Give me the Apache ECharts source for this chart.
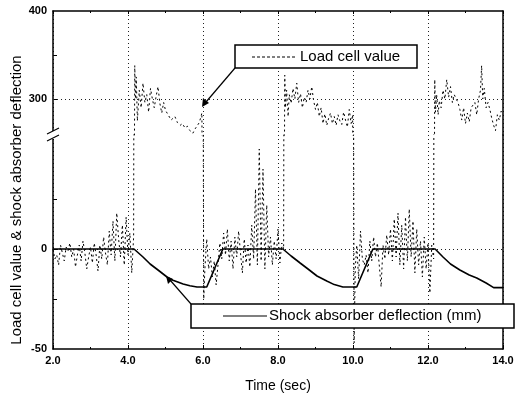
<!DOCTYPE html>
<html>
<head>
<meta charset="utf-8">
<script src="https://cdn.jsdelivr.net/npm/echarts@6/dist/echarts.min.js"></script>
<style>html,body{margin:0;padding:0;background:#fff}#c{width:521px;height:401px}</style>
</head>
<body>
<div id="c"></div>
<script>
// ---- data ----
const xTickLabels = ['2.0','4.0','6.0','8.0','10.0','12.0','14.0'];
const yUpperLabels = [300, 400];
const yLowerLabels = [-50, 0];
const yUpperGrid = [300];
const yLowerGrid = [0];

const deflTime  = [2.0, 4.16, 4.4, 4.59, 4.8, 5.04, 5.2, 5.47, 5.65, 5.84, 6.1, 6.53,
                   8.13, 8.35, 8.59, 8.8, 9.04, 9.3, 9.5, 9.73, 10.1, 10.53,
                   12.19, 12.4, 12.6, 12.85, 13.1, 13.3, 13.55, 13.75, 14.0];
const deflValue = [0, 0, -4, -7.5, -10.5, -14, -15.6, -17.5, -18.4, -19, -19, 0,
                   0, -3.5, -7, -10, -13.5, -16, -17.8, -19, -19, 0,
                   0, -4, -7.5, -10.5, -13, -14.5, -17, -19.3, -19.3];

const loadTime = [
 2.0,2.05,2.1,2.15,2.2,2.25,2.3,2.35,2.4,2.45,2.5,2.55,2.6,2.65,2.7,2.75,2.8,2.85,2.9,2.95,
 3.0,3.05,3.1,3.15,3.2,3.25,3.3,3.35,3.4,3.45,3.5,3.55,3.6,3.65,3.7,3.75,3.8,3.85,3.9,3.95,
 4.0,4.05,4.1,4.15,
 4.18,4.2,4.22,4.25,4.3,4.35,4.4,4.45,4.5,4.55,4.6,4.65,4.7,4.75,4.8,4.85,4.9,4.95,5.0,5.07,
 5.15,5.25,5.32,5.39,5.45,5.52,5.58,5.65,5.73,5.79,5.84,5.9,5.94,5.97,
 6.02,6.05,6.1,6.15,6.2,6.25,6.3,6.35,6.4,6.45,6.5,6.55,6.6,6.65,6.7,6.75,6.8,6.85,6.9,6.95,
 7.0,7.05,7.1,7.15,7.2,7.25,7.3,7.35,7.4,7.45,7.5,7.55,7.6,7.65,7.7,7.75,7.8,7.85,7.9,7.95,
 8.0,8.05,8.1,8.15,
 8.18,8.2,8.23,8.27,8.3,8.35,8.4,8.45,8.5,8.55,8.6,8.65,8.7,8.75,8.8,8.85,8.9,8.95,9.0,9.05,
 9.1,9.15,9.2,9.25,9.3,9.35,9.4,9.45,9.5,9.55,9.6,9.65,9.7,9.75,9.8,9.85,9.9,9.95,9.99,
 10.03,10.06,10.1,10.15,10.2,10.25,10.3,10.35,10.4,10.45,10.5,10.55,10.6,10.65,10.7,10.75,10.8,10.85,10.9,10.95,
 11.0,11.05,11.1,11.15,11.2,11.25,11.3,11.35,11.4,11.45,11.5,11.55,11.6,11.65,11.7,11.75,11.8,11.85,11.9,11.95,
 12.0,12.05,12.1,12.15,
 12.18,12.2,12.23,12.27,12.3,12.35,12.4,12.45,12.5,12.55,12.6,12.65,12.7,12.75,12.8,12.85,12.9,12.95,13.0,13.05,
 13.1,13.15,13.2,13.25,13.3,13.35,13.4,13.43,13.46,13.5,13.55,13.6,13.65,13.7,13.75,13.8,13.85,13.9,13.95,14.0
];
const loadValue = [
 0,-5,-3,-8,2,-2,-6,1,-1,3,-4,0,-9,-3,2,-6,4,-2,-10,-4,
 1,-7,3,-3,-11,2,-5,6,-2,-8,9,-3,14,-6,18,5,-4,12,-8,16,
 -3,8,-12,6,
 338,300,325,275,310,290,318,296,305,285,312,300,290,303,314,295,284,296,287,282,
 276,280,273,270,272,267,269,264,261,266,268,273,279,284,
 -25,-10,5,-10,-4,-14,-6,-18,-8,3,-5,8,-3,10,-6,4,-10,6,-4,9,
 -2,-12,5,-7,2,-9,12,-5,30,-8,50,-6,40,-10,22,-4,6,-8,4,-5,
 10,-7,3,0,
 327,290,310,280,305,295,312,300,318,296,306,290,302,296,310,300,314,298,288,296,
 280,290,272,283,270,278,284,272,280,270,282,275,271,285,276,268,288,272,282,
 -47,-10,2,-15,9,-5,-8,-3,-12,4,-6,6,-4,3,-8,-19,2,-5,7,-3,
 10,-6,15,-4,18,-8,12,-10,16,-6,20,-4,14,-12,10,-8,4,-14,6,-10,
 3,-22,2,-5,
 322,285,305,282,298,290,310,300,322,302,314,296,305,300,296,288,276,290,272,284,
 274,290,288,296,282,300,310,338,300,312,290,296,288,278,270,264,282,276,286,282
];

const loadData = loadTime.map((t, i) => [t, loadValue[i]]);
const deflData = deflTime.map((t, i) => [t, deflValue[i]]);

const chart = echarts.init(document.getElementById('c'), null, {renderer: 'canvas'});
const FONT = '"Liberation Sans", Arial, sans-serif';
const tickLabel = {fontFamily: FONT, fontSize: 11, fontWeight: 'bold', color: '#000'};
const dotted = {color: '#222', width: 1, type: [1, 3]};

const baseX = {
  type: 'value', min: 2, max: 14, interval: 2,
  axisLine: {show: true, onZero: false, lineStyle: {color: '#000', width: 1.5}},
  splitLine: {show: true, lineStyle: dotted},
  minorTick: {show: true, splitNumber: 2, length: 2, lineStyle: {color: '#000'}},
};

const hLine = (vals) => ({silent: true, symbol: 'none', label: {show: false}, lineStyle: dotted,
  data: vals.map(v => [{coord: [2, v]}, {coord: [14, v]}])});

const option = {
  backgroundColor: '#fff',
  animation: false,
  grid: [
    {left: 53, top: 11, width: 450, height: 124, outerBoundsMode: 'none'},
    {left: 53, top: 135, width: 450, height: 214, outerBoundsMode: 'none'}
  ],
  xAxis: [
    Object.assign({}, baseX, {gridIndex: 0, position: 'top',
      axisTick: {show: true, inside: true, length: 3, lineStyle: {color: '#000'}},
      axisLabel: {show: false}}),
    Object.assign({}, baseX, {gridIndex: 1, position: 'bottom',
      axisTick: {show: true, inside: true, length: 4, lineStyle: {color: '#000'}},
      axisLabel: Object.assign({}, tickLabel, {margin: 6,
        formatter: (v) => xTickLabels[Math.round((v - 2) / 2)] || ''}),
      name: 'Time (sec)', nameLocation: 'middle', nameGap: 30,
      nameTextStyle: {fontFamily: FONT, fontSize: 14, color: '#000'}})
  ],
  yAxis: [
    {type: 'value', gridIndex: 0, min: 259, max: 400, position: 'left',
      axisLine: {show: true, onZero: false, lineStyle: {color: '#000', width: 1.5}},
      axisTick: {show: true, inside: true, length: 4, customValues: [300, 350], lineStyle: {color: '#000'}},
      axisLabel: Object.assign({}, tickLabel, {customValues: yUpperLabels, margin: 6}),
      splitLine: {show: false}},
    {type: 'value', gridIndex: 0, min: 259, max: 400, position: 'right',
      axisLine: {show: true, onZero: false, lineStyle: {color: '#000', width: 1.5}},
      axisTick: {show: false}, axisLabel: {show: false}, splitLine: {show: false}},
    {type: 'value', gridIndex: 1, min: -50, max: 57, position: 'left',
      axisLine: {show: true, onZero: false, lineStyle: {color: '#000', width: 1.5}},
      axisTick: {show: true, inside: true, length: 4, customValues: [-25, 0, 25], lineStyle: {color: '#000'}},
      axisLabel: Object.assign({}, tickLabel, {customValues: yLowerLabels, margin: 6}),
      splitLine: {show: false}},
    {type: 'value', gridIndex: 1, min: -50, max: 57, position: 'right',
      axisLine: {show: true, onZero: false, lineStyle: {color: '#000', width: 1.5}},
      axisTick: {show: false}, axisLabel: {show: false}, splitLine: {show: false}}
  ],
  series: [
    {type: 'line', name: 'Load cell value (upper)', xAxisIndex: 0, yAxisIndex: 0, data: loadData,
      showSymbol: false, clip: true, lineStyle: {color: '#000', width: 1, type: [2, 3]},
      markLine: hLine(yUpperGrid)},
    {type: 'line', name: 'Load cell value (lower)', xAxisIndex: 1, yAxisIndex: 2, data: loadData,
      showSymbol: false, clip: true, lineStyle: {color: '#000', width: 1, type: [2, 3]}},
    {type: 'line', name: 'Shock absorber deflection (mm)', xAxisIndex: 1, yAxisIndex: 2, data: deflData,
      showSymbol: false, clip: true, lineStyle: {color: '#000', width: 1.6}, z: 5,
      markLine: hLine(yLowerGrid)}
  ],
  graphic: [
    // y axis title
    {type: 'text', x: 17, y: 200, rotation: Math.PI / 2, z: 10,
      style: {text: 'Load cell value & shock absorber deflection', font: '15px ' + FONT, fill: '#000',
        align: 'center', verticalAlign: 'middle'}},
    // axis break symbol
    {type: 'rect', shape: {x: 50, y: 131, width: 6, height: 8}, style: {fill: '#fff'}, z: 20},
    {type: 'line', shape: {x1: 47, y1: 134, x2: 59, y2: 128}, style: {stroke: '#000', lineWidth: 1.2}, z: 21},
    {type: 'line', shape: {x1: 47, y1: 141, x2: 59, y2: 135}, style: {stroke: '#000', lineWidth: 1.2}, z: 21},
    // top legend box
    {type: 'line', shape: {x1: 235, y1: 68, x2: 206, y2: 102}, style: {stroke: '#000', lineWidth: 1.2}, z: 20},
    {type: 'polygon', shape: {points: [[202, 107], [203, 98], [209, 103]]}, style: {fill: '#000'}, z: 20},
    {type: 'rect', shape: {x: 235, y: 45, width: 182, height: 23}, style: {fill: '#fff', stroke: '#000', lineWidth: 1.5}, z: 20},
    {type: 'line', shape: {x1: 252, y1: 57, x2: 297, y2: 57}, style: {stroke: '#000', lineWidth: 1, lineDash: [3, 2]}, z: 21},
    {type: 'text', x: 300, y: 57, z: 21,
      style: {text: 'Load cell value', font: '15px ' + FONT, fill: '#000', verticalAlign: 'middle'}},
    // bottom legend box
    {type: 'line', shape: {x1: 191, y1: 304, x2: 170, y2: 280}, style: {stroke: '#000', lineWidth: 1.2}, z: 20},
    {type: 'polygon', shape: {points: [[166, 276], [173, 279], [168, 284]]}, style: {fill: '#000'}, z: 20},
    {type: 'rect', shape: {x: 191, y: 304, width: 323, height: 24}, style: {fill: '#fff', stroke: '#000', lineWidth: 1.5}, z: 20},
    {type: 'line', shape: {x1: 223, y1: 316, x2: 267, y2: 316}, style: {stroke: '#000', lineWidth: 1.2}, z: 21},
    {type: 'text', x: 269, y: 316, z: 21,
      style: {text: 'Shock absorber deflection (mm)', font: '15px ' + FONT, fill: '#000', verticalAlign: 'middle'}}
  ]
};
chart.setOption(option);
</script>
</body>
</html>
